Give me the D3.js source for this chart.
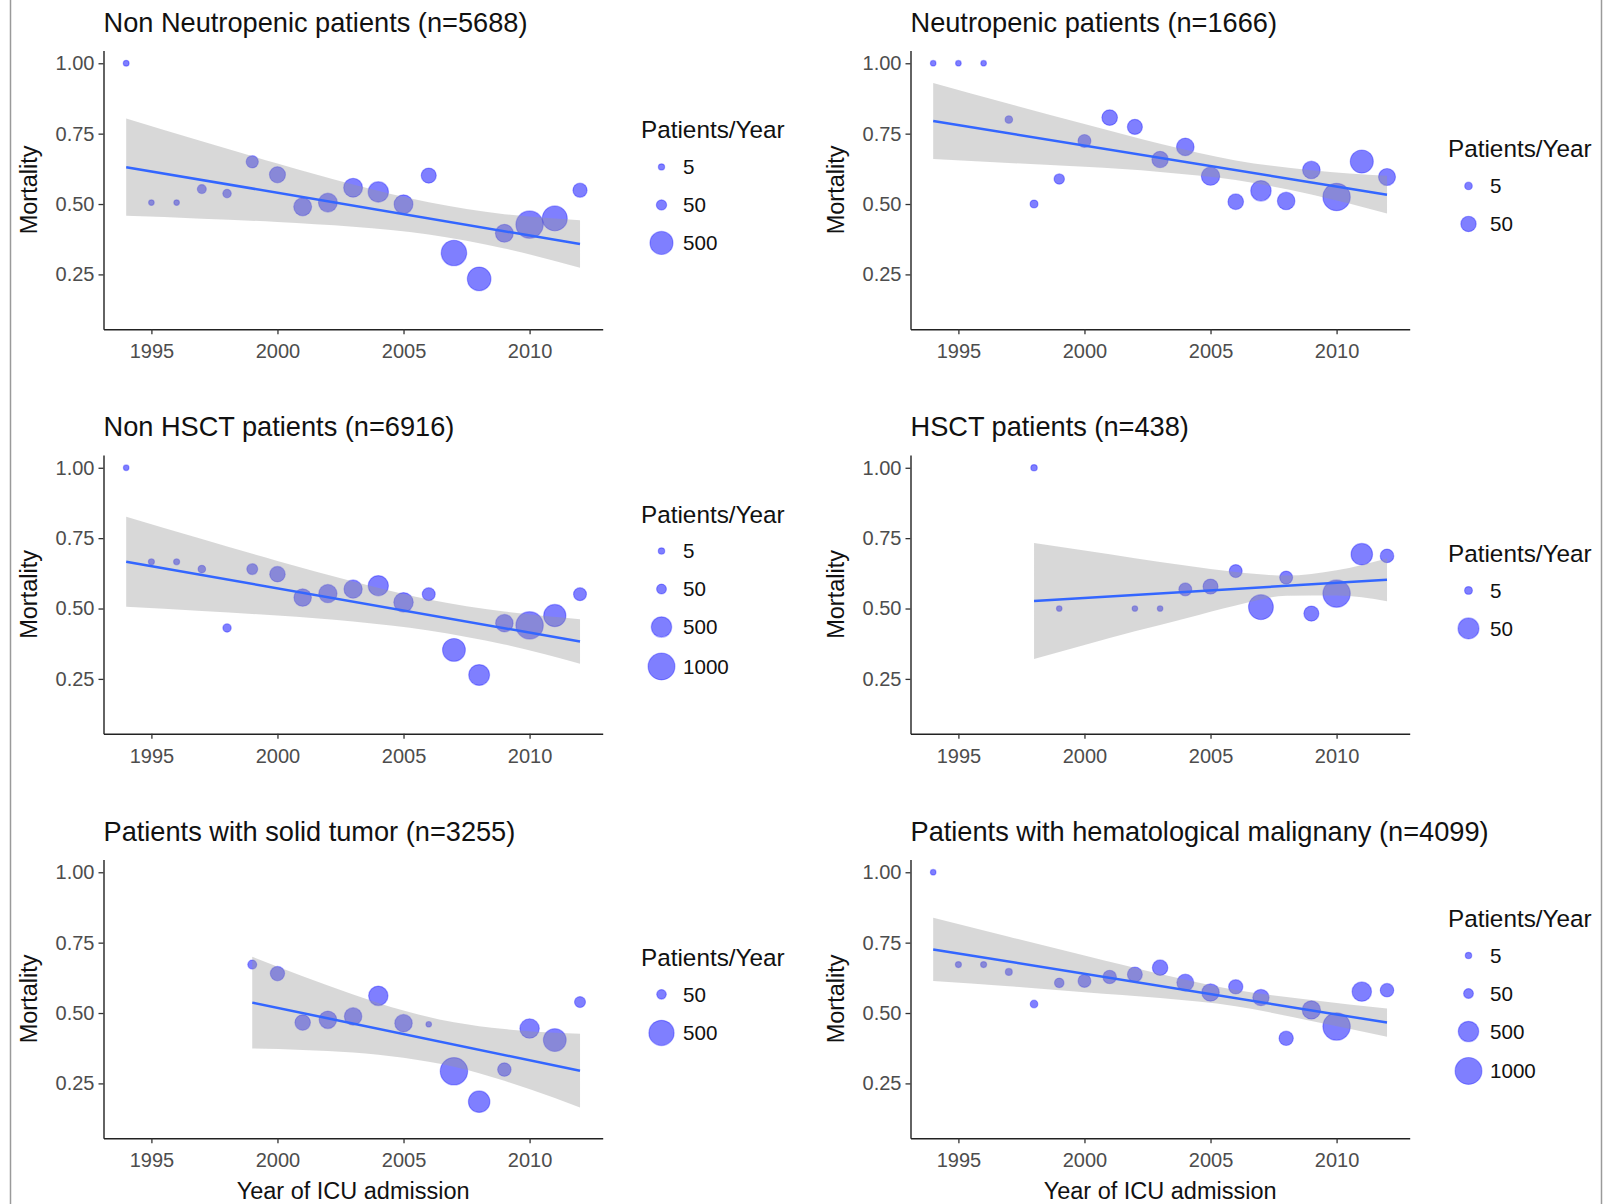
<!DOCTYPE html>
<html>
<head>
<meta charset="utf-8">
<script src="https://cdn.jsdelivr.net/npm/d3@7"></script>
<style>
  body { margin: 0; background: #fff; }
  svg { display: block; font-family: "Liberation Sans", Arial, sans-serif; }
</style>
</head>
<body>
<svg id="chart"></svg>
<script>
// ---- data ----
const allYears = [1994, 1995, 1996, 1997, 1998, 1999, 2000, 2001, 2002, 2003, 2004, 2005, 2006, 2007, 2008, 2009, 2010, 2011, 2012];
const bandYears = [1994, 1997, 2000, 2003, 2006, 2009, 2012];

// Non neutropenic
const nonNeutMort = [1.00, 0.505, 0.505, 0.553, 0.537, 0.650, 0.604, 0.490, 0.505, 0.558, 0.543, 0.499, 0.601, 0.326, 0.234, 0.396, 0.427, 0.449, 0.549];
const nonNeutN = [3, 2, 2, 30, 24, 88, 195, 263, 302, 302, 368, 302, 164, 640, 531, 263, 760, 605, 137];
const nonNeutLower = [0.458, 0.448, 0.436, 0.419, 0.392, 0.342, 0.274];
const nonNeutUpper = [0.804, 0.723, 0.644, 0.569, 0.506, 0.464, 0.442];
const nonNeutFit = [0.631, 0.358];

// Neutropenic
const neutMort = [1.00, 1.00, 1.00, 0.80, 0.50, 0.589, 0.724, 0.807, 0.774, 0.658, 0.703, 0.599, 0.508, 0.547, 0.511, 0.621, 0.525, 0.651, 0.596];
const neutN = [1, 1, 1, 5, 6, 16, 31, 52, 47, 59, 71, 79, 52, 104, 71, 71, 210, 139, 65];
const neutLower = [0.660, 0.646, 0.632, 0.614, 0.585, 0.534, 0.466];
const neutUpper = [0.930, 0.856, 0.784, 0.714, 0.655, 0.620, 0.600];
const neutFit = [0.795, 0.533];

// Non HSCT
const nonHsctMort = [1.00, 0.666, 0.666, 0.640, 0.431, 0.640, 0.622, 0.539, 0.553, 0.569, 0.581, 0.522, 0.551, 0.353, 0.264, 0.448, 0.440, 0.475, 0.551];
const nonHsctN = [1, 3, 3, 15, 25, 76, 234, 329, 372, 372, 488, 441, 134, 665, 529, 329, 1050, 625, 134];
const nonHsctLower = [0.506, 0.491, 0.475, 0.454, 0.422, 0.372, 0.304];
const nonHsctUpper = [0.826, 0.747, 0.669, 0.596, 0.532, 0.489, 0.462];
const nonHsctFit = [0.666, 0.383];

// HSCT
const hsctYears = [1998, 1999, 2002, 2003, 2004, 2005, 2006, 2007, 2008, 2009, 2010, 2011, 2012];
const hsctMort = [1.00, 0.50, 0.50, 0.50, 0.568, 0.578, 0.633, 0.505, 0.610, 0.482, 0.553, 0.693, 0.687];
const hsctN = [3, 2, 2, 2, 17, 24, 17, 72, 17, 24, 89, 53, 19];
const hsctBandYears = [1998, 2000, 2002, 2004, 2006, 2008, 2010, 2012];
const hsctLower = [0.321, 0.370, 0.419, 0.465, 0.511, 0.545, 0.546, 0.526];
const hsctUpper = [0.733, 0.706, 0.679, 0.653, 0.630, 0.617, 0.636, 0.678];
const hsctFit = [0.527, 0.602];

// Solid tumor
const solidYears = [1999, 2000, 2001, 2002, 2003, 2004, 2005, 2006, 2007, 2008, 2009, 2010, 2011, 2012];
const solidMort = [0.672, 0.640, 0.466, 0.476, 0.488, 0.561, 0.464, 0.460, 0.293, 0.185, 0.299, 0.445, 0.404, 0.539];
const solidN = [42, 137, 166, 219, 219, 280, 219, 10, 600, 350, 119, 280, 400, 71];
const solidBandYears = [1999, 2001, 2003, 2005, 2007, 2009, 2011, 2012];
const solidLower = [0.374, 0.369, 0.360, 0.341, 0.309, 0.259, 0.198, 0.164];
const solidUpper = [0.700, 0.631, 0.566, 0.509, 0.467, 0.443, 0.430, 0.426];
const solidFit = [0.537, 0.295];

// Hematological malignancy
const hemMort = [1.00, 0.672, 0.672, 0.646, 0.532, 0.607, 0.614, 0.628, 0.637, 0.661, 0.608, 0.573, 0.593, 0.555, 0.410, 0.511, 0.452, 0.576, 0.581];
const hemN = [1, 3, 3, 9, 15, 45, 134, 154, 207, 233, 300, 329, 184, 270, 184, 372, 1050, 441, 154];
const hemLower = [0.614, 0.595, 0.574, 0.553, 0.524, 0.472, 0.416];
const hemUpper = [0.838, 0.771, 0.704, 0.639, 0.582, 0.546, 0.516];
const hemFit = [0.726, 0.466];

const xTicks = [1995, 2000, 2005, 2010];
const yTicks = [0.25, 0.50, 0.75, 1.00];

const panels = [
  { title: "Non Neutropenic patients (n=5688)", years: allYears, mort: nonNeutMort, n: nonNeutN,
    bandYears: bandYears, lower: nonNeutLower, upper: nonNeutUpper, fitYears: [1994, 2012], fit: nonNeutFit, breaks: [5, 50, 500] },
  { title: "Neutropenic patients (n=1666)", years: allYears, mort: neutMort, n: neutN,
    bandYears: bandYears, lower: neutLower, upper: neutUpper, fitYears: [1994, 2012], fit: neutFit, breaks: [5, 50] },
  { title: "Non HSCT patients (n=6916)", years: allYears, mort: nonHsctMort, n: nonHsctN,
    bandYears: bandYears, lower: nonHsctLower, upper: nonHsctUpper, fitYears: [1994, 2012], fit: nonHsctFit, breaks: [5, 50, 500, 1000] },
  { title: "HSCT patients (n=438)", years: hsctYears, mort: hsctMort, n: hsctN,
    bandYears: hsctBandYears, lower: hsctLower, upper: hsctUpper, fitYears: [1998, 2012], fit: hsctFit, breaks: [5, 50] },
  { title: "Patients with solid tumor (n=3255)", years: solidYears, mort: solidMort, n: solidN,
    bandYears: solidBandYears, lower: solidLower, upper: solidUpper, fitYears: [1999, 2012], fit: solidFit, breaks: [50, 500] },
  { title: "Patients with hematological malignany (n=4099)", years: allYears, mort: hemMort, n: hemN,
    bandYears: bandYears, lower: hemLower, upper: hemUpper, fitYears: [1994, 2012], fit: hemFit, breaks: [5, 50, 500, 1000] }
];

// ---- layout ----
const W = 1603, H = 1204;
const colX = [103.5, 910.5];
const rowY = [50.6, 455.1, 859.6];
const pw = 499.2, ph = 278.7;
const legendX = [641, 1448];

const svg = d3.select("#chart").attr("width", W).attr("height", H);
svg.append("rect").attr("width", W).attr("height", H).attr("fill", "#fff");

// frame edges of the figure
svg.append("line").attr("x1", 10.5).attr("x2", 10.5).attr("y1", 0).attr("y2", H)
  .attr("stroke", "#9a9a9a").attr("stroke-width", 1.5);
svg.append("line").attr("x1", 1601.5).attr("x2", 1601.5).attr("y1", 0).attr("y2", H)
  .attr("stroke", "#9a9a9a").attr("stroke-width", 1.5);

const x = d3.scaleLinear().domain([1993.1, 2012.9]).range([0, pw]);
const y = d3.scaleLinear().domain([0.055, 1.045]).range([ph, 0]);

panels.forEach((p, i) => {
  const col = i % 2, row = Math.floor(i / 2);
  const g = svg.append("g").attr("transform", `translate(${colX[col]},${rowY[row]})`);
  const size = d3.scaleSqrt().domain(d3.extent(p.n)).range([2.8, 13.7]);

  const pts = p.years.map((yr, k) => ({ yr, m: p.mort[k], n: p.n[k] }));

  // points (drawn under the confidence band, as in the original)
  g.selectAll("circle.pt")
    .data(pts)
    .join("circle")
    .attr("class", "pt")
    .attr("cx", d => x(d.yr))
    .attr("cy", d => y(d.m))
    .attr("r", d => size(d.n))
    .attr("fill", "#0000ff")
    .attr("fill-opacity", 0.5)
    .attr("stroke", "#0000ff")
    .attr("stroke-opacity", 0.3)
    .attr("stroke-width", 1.2);

  // confidence band
  const band = p.bandYears.map((yr, k) => ({ yr, lo: p.lower[k], hi: p.upper[k] }));
  const area = d3.area()
    .x(d => x(d.yr))
    .y0(d => y(d.lo))
    .y1(d => y(d.hi))
    .curve(d3.curveMonotoneX);
  g.append("path")
    .datum(band)
    .attr("d", area)
    .attr("fill", "#999999")
    .attr("fill-opacity", 0.38);

  // fitted line
  const fit = p.fitYears.map((yr, k) => ({ yr, v: p.fit[k] }));
  g.append("path")
    .datum(fit)
    .attr("d", d3.line().x(d => x(d.yr)).y(d => y(d.v)))
    .attr("fill", "none")
    .attr("stroke", "#3366FF")
    .attr("stroke-width", 2.5);

  // axes
  const yAxis = g.append("g")
    .call(d3.axisLeft(y).tickValues(yTicks).tickFormat(d3.format(".2f")).tickSize(5).tickSizeOuter(0).tickPadding(4));
  const xAxis = g.append("g")
    .attr("transform", `translate(0,${ph})`)
    .call(d3.axisBottom(x).tickValues(xTicks).tickFormat(d3.format("d")).tickSize(5).tickSizeOuter(0).tickPadding(10));
  [yAxis, xAxis].forEach(a => {
    a.select(".domain").attr("stroke", "#222").attr("stroke-width", 1.4);
    a.selectAll(".tick line").attr("stroke", "#333").attr("stroke-width", 1.3);
    a.selectAll(".tick text")
      .attr("fill", "#4d4d4d")
      .style("font-size", "20px")
      .style("font-family", "\"Liberation Sans\", Arial, sans-serif");
  });

  // titles
  g.append("text")
    .attr("x", 0)
    .attr("y", -19)
    .attr("fill", "#111")
    .style("font-size", "27.2px")
    .text(p.title);

  g.append("text")
    .attr("transform", `translate(-75,${ph / 2}) rotate(-90)`)
    .attr("text-anchor", "middle")
    .attr("dy", "0.35em")
    .attr("fill", "#111")
    .style("font-size", "23.5px")
    .text("Mortality");

  if (row === 2) {
    g.append("text")
      .attr("x", pw / 2)
      .attr("y", ph + 61)
      .attr("text-anchor", "middle")
      .attr("fill", "#111")
      .style("font-size", "23.5px")
      .text("Year of ICU admission");
  }

  // legend
  const keyH = p.breaks.map(b => Math.max(38, 2 * size(b) + 14));
  const total = 30 + d3.sum(keyH);
  const top = rowY[row] + ph / 2 - total / 2;
  const lg = svg.append("g").attr("transform", `translate(${legendX[col]},${top})`);
  lg.append("text")
    .attr("x", 0)
    .attr("y", 12)
    .attr("dy", "0.35em")
    .attr("fill", "#111")
    .style("font-size", "24.3px")
    .text("Patients/Year");
  let cum = 30;
  const keys = p.breaks.map((b, k) => {
    const c = cum + keyH[k] / 2;
    cum += keyH[k];
    return { b, c };
  });
  lg.selectAll("circle")
    .data(keys)
    .join("circle")
    .attr("cx", 20.5)
    .attr("cy", d => d.c)
    .attr("r", d => size(d.b))
    .attr("fill", "#0000ff")
    .attr("fill-opacity", 0.5)
    .attr("stroke", "#0000ff")
    .attr("stroke-opacity", 0.3)
    .attr("stroke-width", 1.2);
  lg.selectAll("text.lab")
    .data(keys)
    .join("text")
    .attr("class", "lab")
    .attr("x", 42)
    .attr("y", d => d.c)
    .attr("dy", "0.35em")
    .attr("fill", "#111")
    .style("font-size", "20.6px")
    .text(d => d.b);
});
</script>
</body>
</html>
